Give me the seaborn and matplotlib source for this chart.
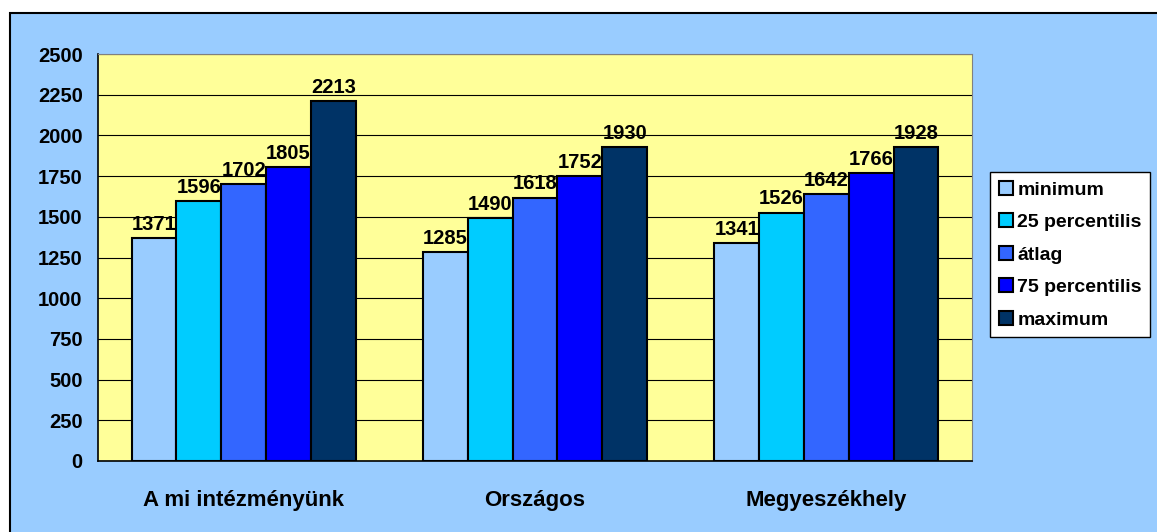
import seaborn as sns
import matplotlib.pyplot as plt
import pandas as pd
from matplotlib.patches import Rectangle

groups = ['A mi intézményünk', 'Országos', 'Megyeszékhely']
series = ['minimum', '25 percentilis', 'átlag', '75 percentilis', 'maximum']
minimum = [1371, 1285, 1341]
perc25 = [1596, 1490, 1526]
atlag = [1702, 1618, 1642]
perc75 = [1805, 1752, 1766]
maximum = [2213, 1930, 1928]
colors = ['#99CCFF', '#00CCFF', '#3366FF', '#0000FF', '#003366']

rows = []
for name, vals in zip(series, [minimum, perc25, atlag, perc75, maximum]):
    for g, v in zip(groups, vals):
        rows.append({'csoport': g, 'sorozat': name, 'ertek': v})
df = pd.DataFrame(rows)

sns.set_style('white')
plt.rcParams['font.family'] = ['Liberation Sans', 'DejaVu Sans']
plt.rcParams['font.weight'] = 'bold'
plt.rcParams['text.color'] = 'black'
plt.rcParams['xtick.color'] = 'black'
plt.rcParams['ytick.color'] = 'black'

fig = plt.figure(figsize=(11.57, 5.32), dpi=100, facecolor='white')
# chart area background
fig.patches.append(Rectangle((10 / 1157, -0.2), 1.2, 0.2 + 1 - 13 / 532,
                             transform=fig.transFigure, facecolor='#99CCFF',
                             edgecolor='black', linewidth=1.5, zorder=-10))
ax = fig.add_axes([98 / 1157, 1 - 461 / 532, 874 / 1157, 407 / 532])
ax.set_facecolor('#FFFF99')

sns.barplot(data=df, x='csoport', y='ertek', hue='sorozat', palette=colors,
            saturation=1, edgecolor='black', linewidth=1.5, width=0.77, ax=ax, zorder=3)

for c in ax.containers:
    ax.bar_label(c, padding=3, fontsize=14.5, fontweight='bold', color='black')

ax.set_ylim(0, 2500)
ax.set_yticks(range(0, 2501, 250))
ax.set_xlim(-0.5, 2.5)
ax.set_xticks([-0.5, 0.5, 1.5, 2.5])
ax.set_xticklabels([])
ax.set_xticks([0, 1, 2], minor=True)
ax.set_xticklabels(groups, minor=True, fontsize=16, fontweight='bold')
ax.tick_params(axis='x', which='major', direction='out', length=6, width=1, color='black')
ax.tick_params(axis='x', which='minor', length=0, pad=21, labelcolor='black')
ax.tick_params(axis='y', direction='out', length=6, width=1, color='black',
               labelsize=14.5, pad=5, labelcolor='black')
for lab in ax.get_yticklabels():
    lab.set_fontweight('bold')
ax.yaxis.grid(True, color='black', linewidth=0.8)
ax.set_axisbelow(True)
ax.set_xlabel('')
ax.set_ylabel('')
ax.spines['left'].set_color('black')
ax.spines['bottom'].set_color('black')
ax.spines['left'].set_linewidth(1.2)
ax.spines['bottom'].set_linewidth(1.2)
ax.spines['top'].set_color('#808080')
ax.spines['right'].set_color('#808080')

handles, labels = ax.get_legend_handles_labels()
ax.legend_.remove()
leg = fig.legend(handles, labels, loc='upper left',
                 bbox_to_anchor=(990 / 1157, 1 - 172 / 532),
                 frameon=True, fancybox=False, edgecolor='black', facecolor='white',
                 framealpha=1, fontsize=14, handlelength=0.75, handleheight=0.75,
                 handletextpad=0.2, labelspacing=0.75, borderpad=0.45, borderaxespad=0,
                 labelcolor='black')
leg.get_frame().set_linewidth(1.0)
for t in leg.get_texts():
    t.set_fontweight('bold')

fig.savefig('out.png', dpi=100, facecolor='white')
